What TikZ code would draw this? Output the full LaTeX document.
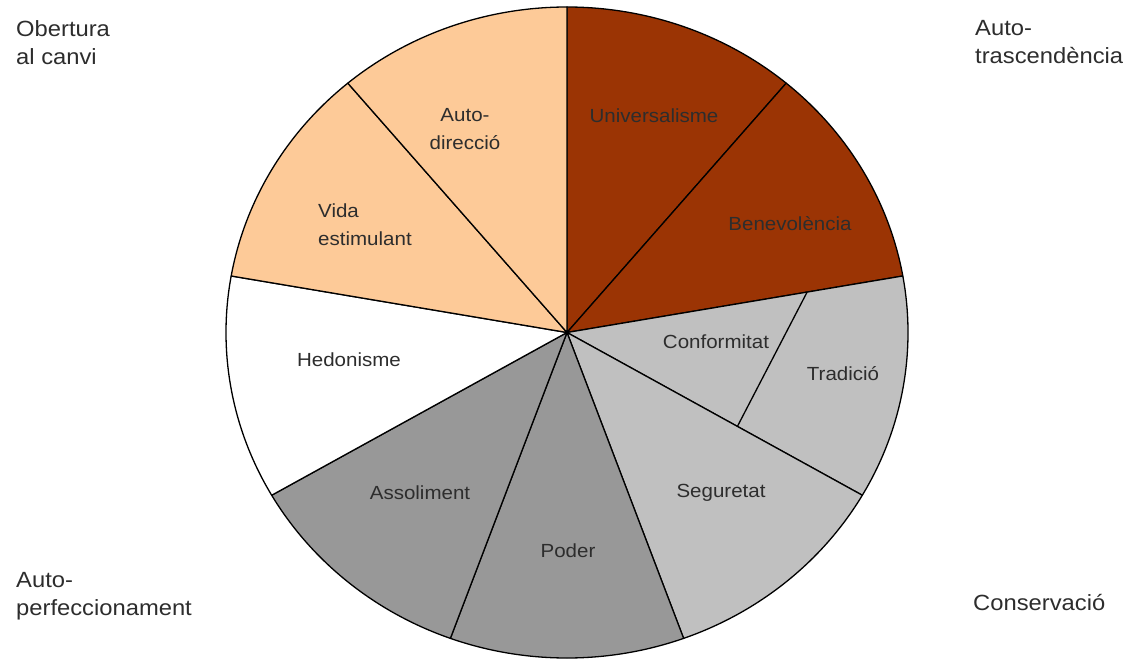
\documentclass[tikz,border=0pt]{standalone}
\usepackage{fontspec}
\setmainfont{Liberation Sans}[FakeStretch=1.08]
\usetikzlibrary{calc}
\definecolor{peach}{RGB}{253,202,152}
\definecolor{rust}{RGB}{155,52,4}
\definecolor{midgray}{RGB}{152,152,152}
\definecolor{lightgray}{RGB}{192,192,192}
\definecolor{txt}{RGB}{45,45,45}
\begin{document}
\begin{tikzpicture}[x=1pt,y=-1pt,
  wedge/.style={draw=black,line width=1.3pt,line join=round},
  lab/.style={text=txt,font=\fontsize{19}{28}\selectfont,inner sep=0pt,align=center},
  corner/.style={text=txt,font=\fontsize{22}{28}\selectfont,inner sep=0pt,align=left,anchor=north west}]
\useasboundingbox (0,0) rectangle (1135,660);
\fill[white] (0,0) rectangle (1135,660);
\coordinate (c) at (567,332.5);
\filldraw[wedge,fill=rust] (c) -- ++(90:341pt and 325.5pt) arc[start angle=90,end angle=50,x radius=341pt,y radius=325.5pt] -- cycle;
\filldraw[wedge,fill=rust] (c) -- ++(50:341pt and 325.5pt) arc[start angle=50,end angle=10,x radius=341pt,y radius=325.5pt] -- cycle;
\filldraw[wedge,fill=lightgray] (c) -- ++(10:341pt and 325.5pt) arc[start angle=10,end angle=-30,x radius=341pt,y radius=325.5pt] -- cycle;
\filldraw[wedge,fill=lightgray] (c) -- ++(-30:341pt and 325.5pt) arc[start angle=-30,end angle=-70,x radius=341pt,y radius=325.5pt] -- cycle;
\filldraw[wedge,fill=midgray] (c) -- ++(-70:341pt and 325.5pt) arc[start angle=-70,end angle=-110,x radius=341pt,y radius=325.5pt] -- cycle;
\filldraw[wedge,fill=midgray] (c) -- ++(-110:341pt and 325.5pt) arc[start angle=-110,end angle=-150,x radius=341pt,y radius=325.5pt] -- cycle;
\filldraw[wedge,fill=white] (c) -- ++(-150:341pt and 325.5pt) arc[start angle=-150,end angle=-190,x radius=341pt,y radius=325.5pt] -- cycle;
\filldraw[wedge,fill=peach] (c) -- ++(170:341pt and 325.5pt) arc[start angle=170,end angle=130,x radius=341pt,y radius=325.5pt] -- cycle;
\filldraw[wedge,fill=peach] (c) -- ++(130:341pt and 325.5pt) arc[start angle=130,end angle=90,x radius=341pt,y radius=325.5pt] -- cycle;
% Conformitat / Tradicio divider
\coordinate (ct1) at ($(c)+(10:0.715*341pt and 0.715*325.5pt)$);
\coordinate (ct2) at ($(c)+(-30:0.577*341pt and 0.577*325.5pt)$);
\draw[wedge] (ct1) -- (ct2);
\fill[black] (c) circle (2.2pt);
% wedge labels
\node[lab] (autodir) at (465,129) {Auto-\\direcció};
\node[lab,align=left,anchor=west] (vida) at (318,225) {Vida\\estimulant};
\node[lab] (univ) at (654,116) {Universalisme};
\node[lab] (bene) at (790,224) {Benevolència};
\node[lab] (conf) at (716,342) {Conformitat};
\node[lab] (trad) at (843,374) {Tradició};
\node[lab] (hedo) at (349,360) {Hedonisme};
\node[lab] (asso) at (420,493) {Assoliment};
\node[lab] (poder) at (568,551) {Poder};
\node[lab] (segu) at (721,493) {Seguretat};
% corner labels
\node[corner] (obert) at (16,20) {Obertura\\al canvi};
\node[corner] (trasc) at (975,20) {Auto-\\trascendència};
\node[corner] (perf) at (16,572) {Auto-\\perfeccionament};
\node[corner] (cons) at (973,594) {Conservació};
\end{tikzpicture}
\end{document}
